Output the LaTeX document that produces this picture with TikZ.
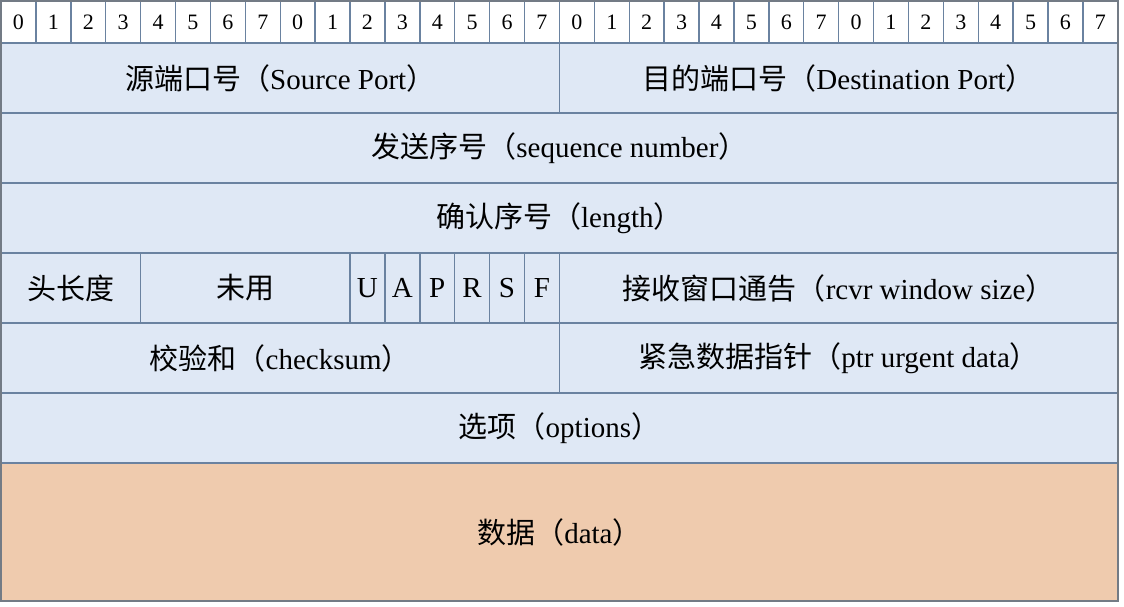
\documentclass[tikz,border=0pt]{standalone}
\usepackage{fontspec}
\setmainfont{Liberation Serif}
\newfontfamily\cjk{Noto Sans CJK SC}
\usepackage{xcolor}
\usetikzlibrary{positioning,calc}
\definecolor{fieldblue}{HTML}{DFE8F5}
\definecolor{fieldline}{HTML}{6A82A0}
\definecolor{frameline}{HTML}{737B85}
\definecolor{datafill}{HTML}{EFCBAE}
\newcommand{\zh}[1]{{\cjk #1}}
\def\bw{17.45pt}
\tikzset{
  bitcell/.style={draw=fieldline, fill=white, line width=0.7pt, minimum width=\bw,
                  minimum height=21pt, inner sep=0pt, outer sep=0pt, anchor=north west,
                  font=\fontsize{11}{13}\selectfont},
  field/.style={draw=fieldline, fill=fieldblue, line width=0.7pt, minimum height=35pt,
                inner sep=0pt, outer sep=0pt, font=\fontsize{14.5}{17}\selectfont},
  flag/.style={field, minimum width=\bw},
  datafield/.style={field, fill=datafill, minimum height=69pt},
  frame/.style={draw=frameline, line width=1pt}
}

\begin{document}
\begin{tikzpicture}
\useasboundingbox (0,0) rectangle (562pt,-303pt);
% bit numbers
\foreach \i in {0,...,31} {
  \pgfmathtruncatemacro{\bit}{mod(\i,8)}
  \node[bitcell] (b\i) at ($(0.5pt,-0.5pt)+(\i*\bw,0)$) {\bit};
}
% row 1
\node[field, anchor=north west, minimum width=16*\bw] (srcport) at (b0.south west) {\zh{源端口号（}Source Port\zh{）}};
\node[field, minimum width=16*\bw, right=0pt of srcport] (dstport) {\zh{目的端口号（}Destination Port\zh{）}};
% rows 2 and 3
\node[field, minimum width=32*\bw, below=0pt of $(srcport.south west)!0.5!(dstport.south east)$] (seqnum) {\zh{发送序号（}sequence number\zh{）}};
\node[field, minimum width=32*\bw, below=0pt of seqnum] (acknum) {\zh{确认序号（}length\zh{）}};
% row 4
\node[field, anchor=north west, minimum width=4*\bw] (hdrlen) at (acknum.south west) {\zh{头长度}};
\node[field, minimum width=6*\bw, right=0pt of hdrlen] (unused) {\zh{未用}};
\node[flag, right=0pt of unused] (flagU) {U};
\node[flag, right=0pt of flagU] (flagA) {A};
\node[flag, right=0pt of flagA] (flagP) {P};
\node[flag, right=0pt of flagP] (flagR) {R};
\node[flag, right=0pt of flagR] (flagS) {S};
\node[flag, right=0pt of flagS] (flagF) {F};
\node[field, minimum width=16*\bw, right=0pt of flagF] (rcvwin) {\zh{接收窗口通告（}rcvr window size\zh{）}};
% row 5
\node[field, anchor=north west, minimum width=16*\bw] (chksum) at (hdrlen.south west) {\zh{校验和（}checksum\zh{）}};
\node[field, minimum width=16*\bw, right=0pt of chksum] (urgptr) {\zh{紧急数据指针（}ptr urgent data\zh{）}};
% options and data
\node[field, minimum width=32*\bw, below=0pt of $(chksum.south west)!0.5!(urgptr.south east)$] (options) {\zh{选项（}options\zh{）}};
\node[datafield, minimum width=32*\bw, below=0pt of options] (data) {\zh{数据（}data\zh{）}};
\draw[frame] (b0.north west) rectangle (data.south east);
\end{tikzpicture}
\end{document}
